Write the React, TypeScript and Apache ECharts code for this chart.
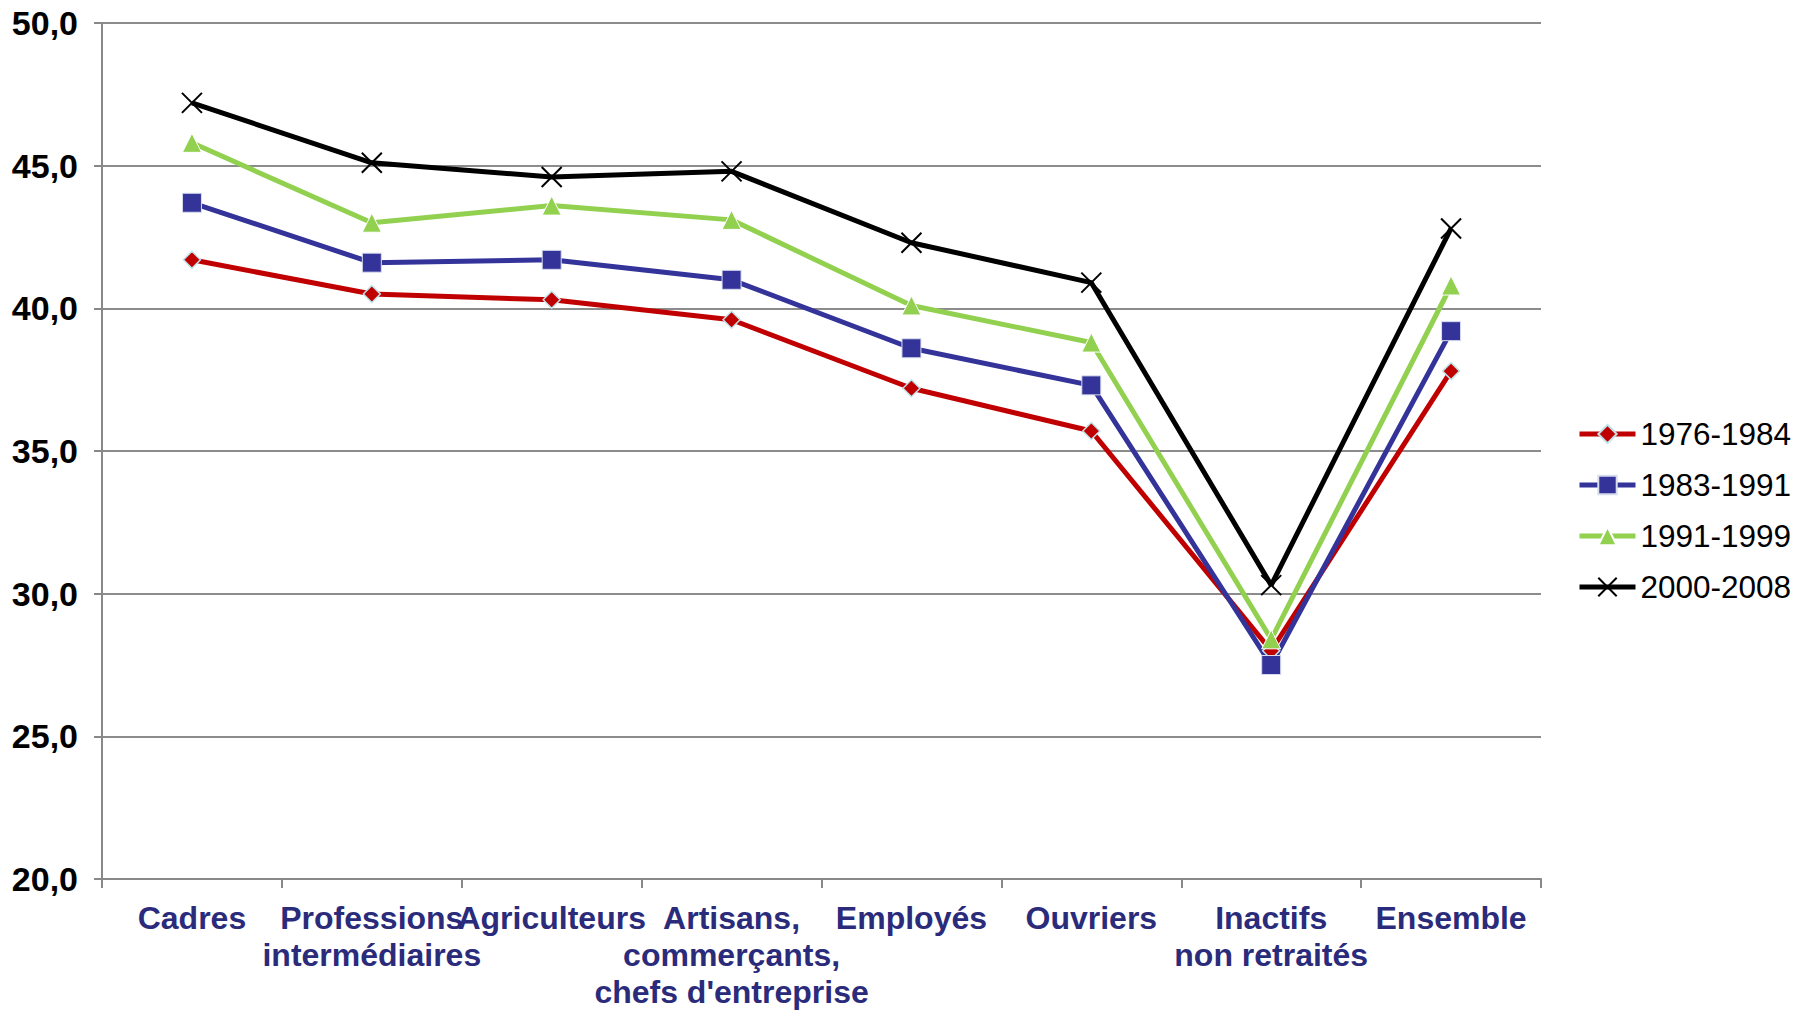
import React, { useEffect, useRef } from "react";
import * as echarts from "echarts";

const categories = [
  "Cadres",
  "Professions\nintermédiaires",
  "Agriculteurs",
  "Artisans,\ncommerçants,\nchefs d'entreprise",
  "Employés",
  "Ouvriers",
  "Inactifs\nnon retraités",
  "Ensemble",
];

const seriesNames = ["1976-1984", "1983-1991", "1991-1999", "2000-2008"];
const values1976 = [41.7, 40.5, 40.3, 39.6, 37.2, 35.7, 28.0, 37.8];
const values1983 = [43.7, 41.6, 41.7, 41.0, 38.6, 37.3, 27.5, 39.2];
const values1991 = [45.8, 43.0, 43.6, 43.1, 40.1, 38.8, 28.4, 40.8];
const values2000 = [47.2, 45.1, 44.6, 44.8, 42.3, 40.9, 30.3, 42.8];

const yMin = 20;
const yMax = 50;
const yStep = 5;

const FONT = "'Liberation Sans', Arial, sans-serif";

export default function App() {
  const ref = useRef<HTMLDivElement>(null);

  useEffect(() => {
    if (!ref.current) return;
    const chart = echarts.init(ref.current, null, { renderer: "svg" });
    const lineW = 5;
    const option = {
      animation: false,
      backgroundColor: "#ffffff",
      textStyle: { fontFamily: FONT },
      grid: { left: 102, right: 256, top: 23, bottom: 128, containLabel: false },
      legend: {
        orient: "vertical",
        left: 1572,
        top: 413,
        itemWidth: 56,
        itemHeight: 23,
        itemGap: 19,
        lineStyle: { width: 5 },
        textStyle: { fontSize: 31.5, color: "#000", fontFamily: FONT, lineHeight: 32 },
        data: seriesNames,
      },
      xAxis: {
        type: "category",
        data: categories,
        boundaryGap: true,
        axisLine: { lineStyle: { color: "#888888", width: 2 } },
        axisTick: { show: true, length: 9, lineStyle: { color: "#888888", width: 2 } },
        axisLabel: {
          interval: 0,
          margin: 20,
          fontSize: 32,
          fontWeight: "bold",
          color: "#2B2B7B",
          fontFamily: FONT,
          lineHeight: 37,
          align: "center",
        },
      },
      yAxis: {
        type: "value",
        min: yMin,
        max: yMax,
        interval: yStep,
        axisLine: { show: true, lineStyle: { color: "#888888", width: 2 } },
        axisTick: { show: true, length: 8, lineStyle: { color: "#888888", width: 2 } },
        splitLine: { show: true, lineStyle: { color: "#8c8c8c", width: 2 } },
        axisLabel: {
          margin: 24,
          fontSize: 34,
          fontWeight: "bold",
          color: "#000",
          fontFamily: FONT,
          formatter: (v: number) => v.toFixed(1).replace(".", ","),
        },
      },
      series: [
        {
          name: seriesNames[0],
          type: "line",
          data: values1976,
          symbol: "diamond",
          symbolSize: 17,
          lineStyle: { color: "#C00000", width: lineW },
          itemStyle: { color: "#C00000", borderColor: "#BFE3EA", borderWidth: 1.5 },
        },
        {
          name: seriesNames[1],
          type: "line",
          data: values1983,
          symbol: "rect",
          symbolSize: 19,
          lineStyle: { color: "#333399", width: lineW },
          itemStyle: { color: "#333399", borderColor: "#D8DDEE", borderWidth: 1 },
        },
        {
          name: seriesNames[2],
          type: "line",
          data: values1991,
          symbol: "triangle",
          symbolSize: 19,
          lineStyle: { color: "#92D050", width: lineW },
          itemStyle: { color: "#92D050", borderColor: "#ffffff", borderWidth: 1 },
        },
        {
          name: seriesNames[3],
          type: "line",
          data: values2000,
          symbol: "path://M0,0L10,10M10,0L0,10",
          symbolSize: 20,
          lineStyle: { color: "#000000", width: lineW },
          itemStyle: { color: "#000000", borderColor: "#000000", borderWidth: 2 },
        },
      ],
    };
    chart.setOption(option as any);
    return () => chart.dispose();
  }, []);

  return (
    <div
      ref={ref}
      style={{ position: "fixed", left: 0, top: 0, width: 1797, height: 1010, background: "#fff" }}
    />
  );
}
